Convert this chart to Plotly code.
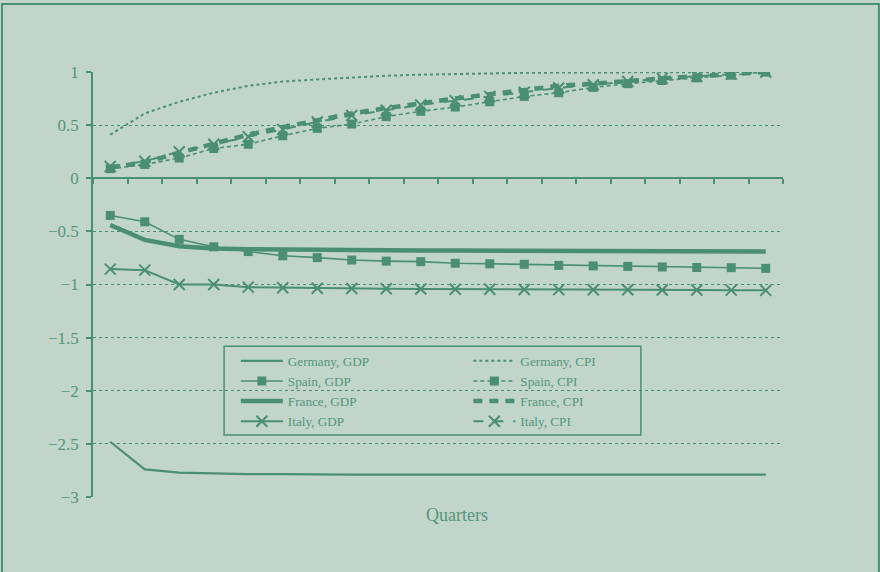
import plotly.graph_objects as go

# quarters 1..20
quarters = list(range(1, 21))

germany_gdp = [-2.48, -2.74, -2.77, -2.78, -2.785, -2.785, -2.79, -2.79, -2.79, -2.79,
               -2.79, -2.79, -2.79, -2.79, -2.79, -2.79, -2.79, -2.79, -2.79, -2.79]
spain_gdp = [-0.35, -0.41, -0.575, -0.645, -0.69, -0.73, -0.747, -0.77, -0.78, -0.785,
             -0.80, -0.805, -0.81, -0.82, -0.825, -0.83, -0.835, -0.84, -0.842, -0.848]
france_gdp = [-0.44, -0.58, -0.64, -0.66, -0.668, -0.672, -0.675, -0.677, -0.679, -0.68,
              -0.681, -0.682, -0.683, -0.684, -0.685, -0.686, -0.687, -0.688, -0.689, -0.69]
italy_gdp = [-0.855, -0.865, -1.0, -1.0, -1.025, -1.03, -1.035, -1.038, -1.04, -1.042,
             -1.044, -1.045, -1.047, -1.048, -1.049, -1.05, -1.051, -1.052, -1.053, -1.055]

germany_cpi = [0.41, 0.61, 0.72, 0.805, 0.87, 0.91, 0.93, 0.95, 0.965, 0.975,
               0.983, 0.988, 0.992, 0.995, 0.997, 0.998, 0.999, 1.0, 1.0, 1.0]
spain_cpi = [0.09, 0.13, 0.19, 0.28, 0.32, 0.40, 0.47, 0.51, 0.58, 0.63,
             0.67, 0.72, 0.77, 0.805, 0.855, 0.89, 0.92, 0.945, 0.97, 1.0]
france_cpi = [0.10, 0.15, 0.24, 0.33, 0.41, 0.48, 0.55, 0.61, 0.66, 0.71,
              0.75, 0.79, 0.83, 0.87, 0.89, 0.92, 0.94, 0.96, 0.98, 1.0]
italy_cpi = [0.11, 0.16, 0.25, 0.32, 0.39, 0.46, 0.53, 0.59, 0.64, 0.69,
             0.73, 0.77, 0.81, 0.85, 0.88, 0.91, 0.94, 0.96, 0.98, 1.0]

y_ticks = [1, 0.5, 0, -0.5, -1, -1.5, -2, -2.5, -3]
y_labels = ["1", "0.5", "0", "\u22120.5", "\u22121", "\u22121.5", "\u22122", "\u22122.5", "\u22123"]

green = "#4a8f72"
txt = "#55957a"
bg = "#c1d5cb"
serif = "Liberation Serif, Times New Roman, serif"

fig = go.Figure()

def add(y, name, width, dash, symbol=None, legend="legend"):
    mode = "lines+markers" if symbol else "lines"
    marker = None
    if symbol == "square":
        marker = dict(symbol="square", size=9, color=green)
    elif symbol == "x":
        marker = dict(symbol="x-thin", size=11, color=green, line=dict(width=2, color=green))
    fig.add_trace(go.Scatter(x=quarters, y=y, name=name, mode=mode, legend=legend,
                             line=dict(color=green, width=width, dash=dash),
                             marker=marker))

add(germany_gdp, "Germany, GDP", 2.2, "solid")
add(spain_gdp, "Spain, GDP", 1.6, "solid", "square")
add(france_gdp, "France, GDP", 4.5, "solid")
add(italy_gdp, "Italy, GDP", 2, "solid", "x")
add(germany_cpi, "Germany, CPI", 2, "3px,3px", legend="legend2")
add(spain_cpi, "Spain, CPI", 1.6, "4px,3px", "square", legend="legend2")
add(france_cpi, "France, CPI", 4.5, "9px,7px", legend="legend2")
add(italy_cpi, "Italy, CPI", 2, "10px,10px", "x", legend="legend2")

leg = dict(font=dict(family=serif, size=13.2, color=txt), bgcolor="rgba(0,0,0,0)",
           borderwidth=0, yanchor="top", xanchor="left", tracegroupgap=0, itemwidth=42)

fig.update_layout(
    width=880, height=572,
    paper_bgcolor=bg, plot_bgcolor=bg,
    margin=dict(l=93, r=97, t=72, b=75),
    font=dict(family=serif, color=txt),
    legend=dict(leg, x=0.207, y=0.356),
    legend2=dict(leg, x=0.544, y=0.356),
    xaxis=dict(range=[0.5, 20.5], tickmode="linear", tick0=0.5, dtick=1,
               showticklabels=False, showgrid=False, zeroline=False,
               showline=True, linecolor=green, linewidth=1.5,
               ticks="outside", ticklen=5, tickcolor=green, tickwidth=1.5,
               anchor="free", position=0.75),
    yaxis=dict(range=[-3, 1], tickmode="array", tickvals=y_ticks, ticktext=y_labels,
               showgrid=True, gridcolor=green, griddash="dot", gridwidth=1.3,
               zeroline=False, showline=True, linecolor=green, linewidth=1.5,
               ticks="outside", ticklen=5, tickcolor=green, tickwidth=1.5,
               ticklabelstandoff=4,
               tickfont=dict(family=serif, size=17, color=txt)),
    annotations=[dict(text="Quarters", x=0.527, y=-0.042, xref="paper", yref="paper",
                      xanchor="center", yanchor="middle", showarrow=False,
                      font=dict(family=serif, size=18, color=txt))],
    shapes=[
        # legend box
        dict(type="rect", xref="paper", yref="paper", x0=0.190, x1=0.794, y0=0.146, y1=0.355,
             line=dict(color=green, width=1.5)),
        # outer frame
        dict(type="rect", xref="paper", yref="paper", x0=-0.1319, x1=1.139, y0=-0.2, y1=1.16,
             line=dict(color=green, width=2)),
    ],
)

# page body has a default 8px margin; remove it so the figure sits at the window corner
fig.write_html("out.html", config={"displayModeBar": False},
               post_script="document.body.style.margin='0';"
                           "document.body.style.background='" + bg + "';")
